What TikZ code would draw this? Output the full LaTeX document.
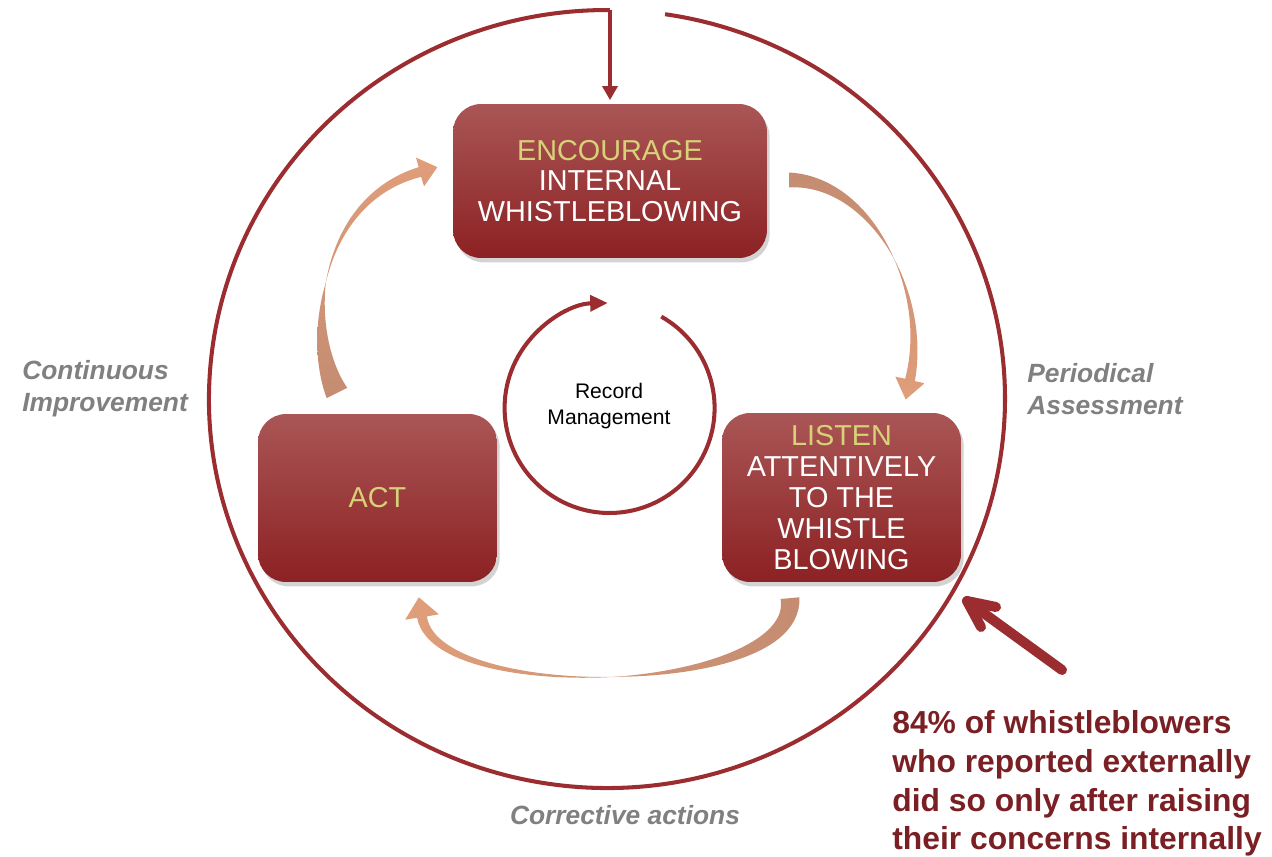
\documentclass[tikz,border=0pt]{standalone}
\usepackage{fontspec}
\setmainfont{Liberation Sans}
\usetikzlibrary{arrows.meta,shadows}
\definecolor{circ}{RGB}{155,45,48}
\definecolor{boxtop}{RGB}{170,86,86}
\definecolor{boxbot}{RGB}{140,33,35}
\definecolor{enctext}{RGB}{215,210,120}
\definecolor{arrlight}{RGB}{224,158,122}
\definecolor{arrdark}{RGB}{196,140,114}
\definecolor{labgray}{RGB}{128,128,128}
\definecolor{notered}{RGB}{122,32,36}
% tapered curved arrow: four Bezier points (screen px), then shading options
\def\taper(#1,#2)(#3,#4)(#5,#6)(#7,#8)#9{%
  \def\xa{#1}\def\ya{#2}\def\xb{#3}\def\yb{#4}\def\xc{#5}\def\yc{#6}\def\xd{#7}\def\yd{#8}%
  \pgfmathsetmacro\ux{(\xd-\xc)/100}\pgfmathsetmacro\uy{(\yd-\yc)/100}%
  \pgfmathsetmacro\ul{veclen(\ux,\uy)}%
  \pgfmathsetmacro\ux{\ux/\ul}\pgfmathsetmacro\uy{\uy/\ul}%
  \pgfmathsetmacro\pax{\xd-\tB*\uy}\pgfmathsetmacro\pay{\yd+\tB*\ux}%
  \pgfmathsetmacro\pbx{\xd+\tB*\uy}\pgfmathsetmacro\pby{\yd-\tB*\ux}%
  \pgfmathsetmacro\ptx{\xd+\tL*\ux}\pgfmathsetmacro\pty{\yd+\tL*\uy}%
  \shade[#9] plot[domain=0:1,samples=60,variable=\t]
    ({cb(\t,\xa,\xb,\xc,\xd)-tw(\t,\tW,\tH,\tM)*cd(\t,\ya,\yb,\yc,\yd)/veclen(cd(\t,\xa,\xb,\xc,\xd),cd(\t,\ya,\yb,\yc,\yd))},
     {cb(\t,\ya,\yb,\yc,\yd)+tw(\t,\tW,\tH,\tM)*cd(\t,\xa,\xb,\xc,\xd)/veclen(cd(\t,\xa,\xb,\xc,\xd),cd(\t,\ya,\yb,\yc,\yd))})
    -- (\pax,\pay) -- (\ptx,\pty) -- (\pbx,\pby) --
    plot[domain=1:0,samples=60,variable=\t]
    ({cb(\t,\xa,\xb,\xc,\xd)+tw(\t,\tW,\tH,\tM)*cd(\t,\ya,\yb,\yc,\yd)/veclen(cd(\t,\xa,\xb,\xc,\xd),cd(\t,\ya,\yb,\yc,\yd))},
     {cb(\t,\ya,\yb,\yc,\yd)-tw(\t,\tW,\tH,\tM)*cd(\t,\xa,\xb,\xc,\xd)/veclen(cd(\t,\xa,\xb,\xc,\xd),cd(\t,\ya,\yb,\yc,\yd))})
    -- cycle;%
}
\begin{document}
\begin{tikzpicture}[x=0.02cm,y=-0.02cm,
  declare function={
    cb(\qt,\qa,\qb,\qc,\qd)=(1-\qt)*(1-\qt)*(1-\qt)*\qa+3*(1-\qt)*(1-\qt)*\qt*\qb+3*(1-\qt)*\qt*\qt*\qc+\qt*\qt*\qt*\qd;
    cd(\qt,\qa,\qb,\qc,\qd)=(3*(1-\qt)*(1-\qt)*(\qb-\qa)+6*(1-\qt)*\qt*(\qc-\qb)+3*\qt*\qt*(\qd-\qc))/100;
    tw(\qt,\qp,\qr,\qm)=\qp*max(0,(\qm-\qt)/\qm)+\qr*max(0,(\qt-\qm)/(1-\qm));
  },
  stepbox/.style={draw=none, rounded corners=16pt, top color=boxtop, bottom color=boxbot,
    text=white, align=center, inner sep=0pt,
    font=\fontsize{16.4}{17.6}\selectfont,
    drop shadow={opacity=0.35, shadow xshift=1.5pt, shadow yshift=-2.5pt}},
  ring/.style={draw=circ, line width=2.3pt},
  graylabel/.style={text=labgray, inner sep=0pt, font=\fontsize{15}{18.1}\selectfont\bfseries\itshape},
  notelabel/.style={text=notered, inner sep=0pt, align=left, font=\fontsize{18.1}{22.1}\selectfont\bfseries},
  bigarrow/.style={draw=circ, line width=5.7pt, line cap=round, line join=round}
]
\useasboundingbox (0,0) rectangle (1272,856);

% outer ring with gap at the top
\draw[ring] (665.1,14.2) arc[start angle=-81.6, end angle=270.4, x radius=398, y radius=389];
\coordinate (ctop) at (610,10);

% boxes
\node[stepbox, minimum width=6.28cm, minimum height=3.08cm] (enc) at (610,181)
  {{\color{enctext}ENCOURAGE}\\INTERNAL\\WHISTLEBLOWING};
\node[stepbox, minimum width=4.78cm, minimum height=3.36cm] (act) at (377.5,498)
  {{\color{enctext}ACT}};
\node[stepbox, minimum width=4.78cm, minimum height=3.38cm] (lis) at (841.5,497.5)
  {{\color{enctext}LISTEN}\\ATTENTIVELY\\TO THE\\WHISTLE\\BLOWING};

% arrow from the ring into the top box
\draw[circ, line width=2.3pt, -{Triangle[length=8pt,width=8.5pt]}, shorten >=2pt] (ctop) -- (enc.north);

% inner record management ring
\node[inner sep=0pt, align=center, font=\fontsize{12}{14.7}\selectfont] (rec) at (609,406) {Record\\Management};
\draw[ring, -{Triangle[length=10pt,width=9pt]}] (661.3,316.6) arc[start angle=-60.5, end angle=269, radius=105];

% tapered curved arrows
\def\tW{11.5}\def\tH{5}\def\tM{0.45}\def\tB{15}\def\tL{18}
\taper(337,393)(305,330)(320,200)(420,172){top color=arrlight, bottom color=arrdark}
\def\tW{7.5}\def\tH{5}\def\tM{0.55}\def\tB{15}\def\tL{20}
\taper(789,180)(870,180)(930,290)(910,380){top color=arrdark, bottom color=arrlight}
\def\tW{9.5}\def\tH{5}\def\tM{0.5}\def\tB{17}\def\tL{20}
\taper(790,598)(800,695)(436,705)(422,617){left color=arrlight, right color=arrdark}

% side labels
\node[graylabel, anchor=west, align=left] (lci) at (22,389) {Continuous\\Improvement};
\node[graylabel, anchor=west, align=left] (lpa) at (1027,389) {Periodical\\Assessment};
\node[graylabel] (lca) at (625,815) {Corrective actions};

% note and its arrow
\node[notelabel, anchor=west] (note) at (892,783.5)
  {84\% of whistleblowers\\who reported externally\\did so only after raising\\their concerns internally};
\coordinate (ptail) at (1062,670);
\coordinate (ptip) at (967,601);
\coordinate (pb1) at (996,607);
\coordinate (pb2) at (981,627);
\draw[bigarrow] (ptail) -- (ptip);
\draw[bigarrow] (pb1) -- (ptip) -- (pb2);
\end{tikzpicture}
\end{document}
